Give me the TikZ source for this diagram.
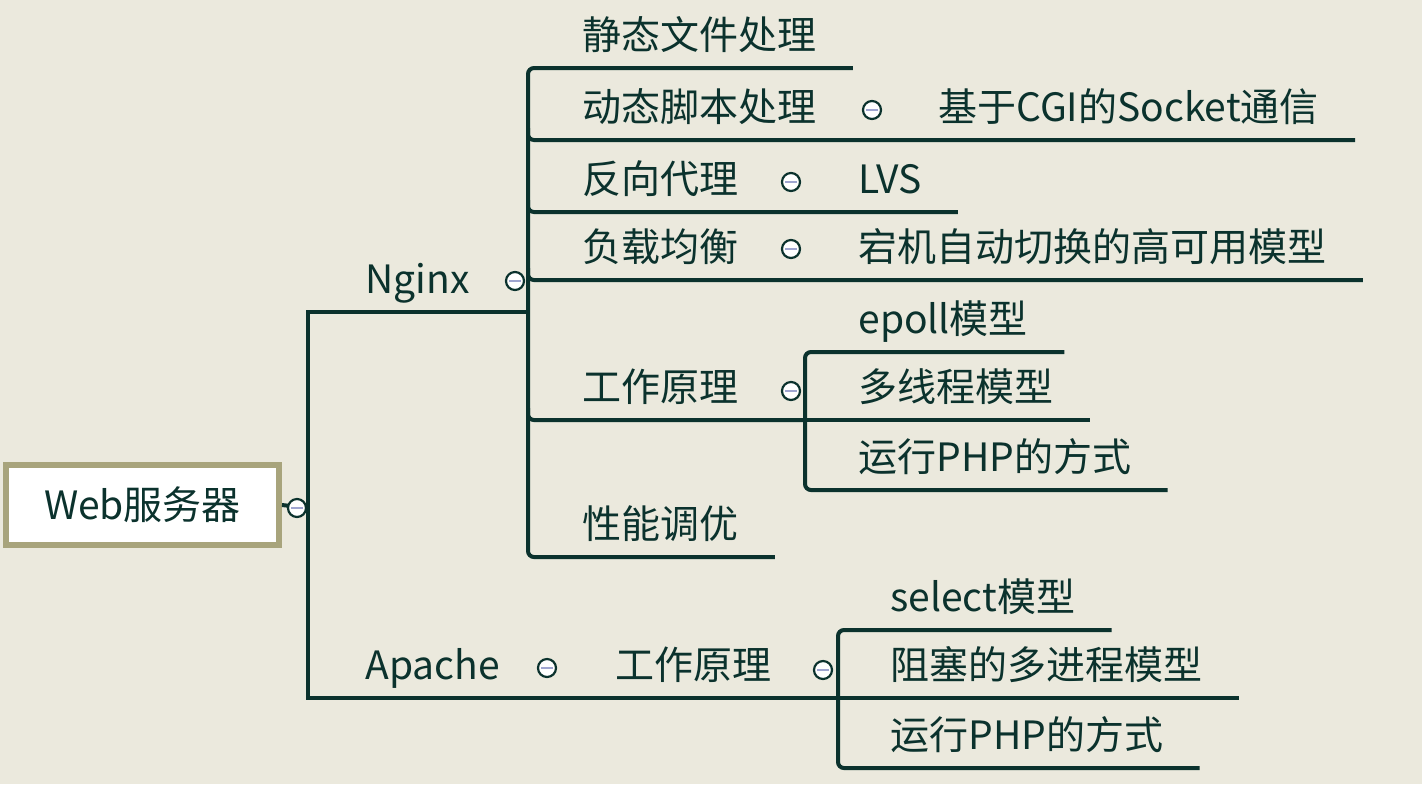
\documentclass[tikz,border=0pt]{standalone}
\usepackage{fontspec}
\setmainfont{Noto Sans CJK SC}
\usetikzlibrary{positioning}
\definecolor{bg}{HTML}{EBE9DD}
\definecolor{ink}{HTML}{0B322D}
\definecolor{rootframe}{HTML}{A8A47C}
\definecolor{foldbar}{HTML}{9FA5D0}

\begin{document}
\begin{tikzpicture}[x=0.5pt,y=-0.5pt,
    topic/.style={anchor=south west,text=ink,font=\fontsize{19.5}{24}\selectfont,text depth=9pt},
    link/.style={draw=ink,line width=2pt},
    fold/.style={circle,draw=ink,fill=white,line width=1.1pt,minimum size=9pt,
      path picture={\draw[foldbar,line width=1.3pt] ([xshift=-2.8pt]path picture bounding box.center) -- ([xshift=2.8pt]path picture bounding box.center);}}]
                    \tikzstyle{every node}+=[inner sep=0pt]
                    \fill [bg] (0,0) rectangle (1422,784);
                    \useasboundingbox (0,0) rectangle (1422,784);
                    % root
                    \node [draw=rootframe,line width=3pt,fill=white,minimum width=136.5pt,minimum height=40pt,
                           text=ink,font=\fontsize{19.5}{24}\selectfont] (root) at (142.5,505) {Web服务器};
                    \node [topic] (nginx) at (365,312) {Nginx};
                    \node [topic] (apache) at (365,698) {Apache};
                    % nginx
                    \node [topic] (ng-static) at (582,68) {静态文件处理};
                    \node [topic] (ng-dyn) at (582,140) {动态脚本处理};
                    \node [topic] (ng-cgi) at (938,140) {基于CGI的Socket通信};
                    \node [topic] (ng-proxy) at (582,212) {反向代理};
                    \node [topic] (ng-lvs) at (858,212) {LVS};
                    \node [topic] (ng-lb) at (582,280) {负载均衡};
                    \node [topic] (ng-ha) at (858,280) {宕机自动切换的高可用模型};
                    \node [topic] (ng-work) at (582,420) {工作原理};
                    \node [topic] (ng-epoll) at (858,352) {epoll模型};
                    \node [topic] (ng-thread) at (858,420) {多线程模型};
                    \node [topic] (ng-php) at (858,490) {运行PHP的方式};
                    \node [topic] (ng-tune) at (582,557) {性能调优};
                    % apache
                    \node [topic] (ap-work) at (615,698) {工作原理};
                    \node [topic] (ap-select) at (890,630) {select模型};
                    \node [topic] (ap-block) at (890,698) {阻塞的多进程模型};
                    \node [topic] (ap-php) at (890,768) {运行PHP的方式};
                    % trunks
                    \coordinate (rt) at (308,508);
                    \coordinate (nt) at (528,312);
                    \coordinate (wt) at (805,420);
                    \coordinate (at) at (838,698);
                    \draw [link] (root.east) -- (rt);
                    \draw [link] (nt) -| (rt) |- (at);
                    \draw [link,rounded corners=3pt] ([xshift=18pt]ng-static.south east) -| (nt) |- ([xshift=18pt]ng-tune.south east);
                    \foreach \a/\b in {ng-dyn/ng-cgi,ng-proxy/ng-lvs,ng-lb/ng-ha}
                      \draw [link,rounded corners=3pt] ([yshift=6pt]nt |- \a.south) |- ([xshift=18pt]\b.south east);
                    \draw [link,rounded corners=3pt] ([yshift=6pt]nt |- ng-work.south) |- (wt);
                    \draw [link,rounded corners=3pt] ([xshift=18pt]ng-epoll.south east) -| (wt) |- ([xshift=18pt]ng-php.south east);
                    \draw [link] (wt) -- ([xshift=18pt]ng-thread.south east);
                    \draw [link,rounded corners=3pt] ([xshift=18pt]ap-select.south east) -| (at) |- ([xshift=18pt]ap-php.south east);
                    \draw [link] (at) -- ([xshift=18pt]ap-block.south east);
                    % fold marks
                    \node [fold] (f-root) at (297,508) {};
                    \node [fold] (f-nginx) at (515,281) {};
                    \node [fold] (f-dyn) at (872,110) {};
                    \node [fold] (f-proxy) at (791,182) {};
                    \node [fold] (f-lb) at (791,249) {};
                    \node [fold] (f-work) at (791,391) {};
                    \node [fold] (f-apache) at (547,668) {};
                    \node [fold] (f-apwork) at (823,670) {};
                \end{tikzpicture}
\end{document}
